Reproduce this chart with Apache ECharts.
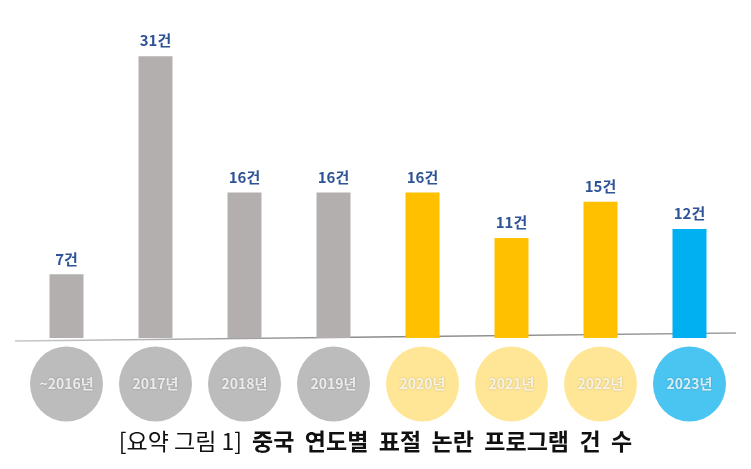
<!DOCTYPE html>
<html><head><meta charset="utf-8">
<script src="https://cdn.jsdelivr.net/npm/echarts@6/dist/echarts.min.js"></script>
<style>html,body{margin:0;padding:0;background:#fff}#c{width:751px;height:469px}</style>
</head><body><div id="c"></div>
<script>
const categories = ['~2016년','2017년','2018년','2019년','2020년','2021년','2022년','2023년'];
const values = [7, 31, 16, 16, 16, 11, 15, 12];
const barColors = ['#B3AFAF','#B3AFAF','#B3AFAF','#B3AFAF','#FFC000','#FFC000','#FFC000','#00B0F0'];
const circleColors = ['#ABABAB','#ABABAB','#ABABAB','#ABABAB','#FFE07C','#FFE07C','#FFE07C','#1DB6EF'];
const caption = ['[요약 그림 1]', '중국 연도별 표절 논란 프로그램 건 수'];

const chart = echarts.init(document.getElementById('c'));
chart.setOption({
  animation: false,
  backgroundColor: '#fff',
  title: {
    text: '{a|' + caption[0] + '}  {b|' + caption[1].split(' ').join('  ') + '}',
    left: 'center', top: 425,
    textStyle: {
      rich: {
        a: {fontFamily: '"Noto Sans CJK KR"', fontSize: 23, fontWeight: 'normal', color: '#111'},
        b: {fontFamily: '"Noto Sans CJK KR"', fontSize: 23, fontWeight: 'bold', color: '#111'}
      }
    }
  },
  graphic: [{
    type: 'line', z: 0,
    shape: {x1: 15, y1: 341, x2: 736, y2: 333},
    style: {
      lineWidth: 1.5,
      stroke: new echarts.graphic.LinearGradient(0, 0, 1, 0, [
        {offset: 0, color: '#C8C8C8'}, {offset: 0.5, color: '#8A8A8A'}, {offset: 1, color: '#A0A0A0'}
      ])
    }
  }],
  grid: [
    {left: 22, width: 712, top: 38, height: 300},
    {left: 22, width: 712, top: 347, height: 74}
  ],
  xAxis: [
    {type: 'category', gridIndex: 0, data: categories, axisLine: {show: false}, axisTick: {show: false}, axisLabel: {show: false}},
    {type: 'category', gridIndex: 1, data: categories, axisLine: {show: false}, axisTick: {show: false}, axisLabel: {show: false}}
  ],
  yAxis: [
    {type: 'value', gridIndex: 0, min: 0, max: 33, show: false, splitLine: {show: false}},
    {type: 'value', gridIndex: 1, min: -1, max: 1, show: false, splitLine: {show: false}}
  ],
  series: [
    {
      type: 'bar', xAxisIndex: 0, yAxisIndex: 0, barWidth: 34,
      data: values.map((v, i) => ({value: v, itemStyle: {color: barColors[i]}})),
      label: {
        show: true, position: 'top', distance: 8,
        formatter: p => p.value + '건',
        fontFamily: '"Noto Sans CJK KR"', fontWeight: 'bold', fontSize: 15, color: '#2F5496'
      }
    },
    {
      type: 'scatter', xAxisIndex: 1, yAxisIndex: 1, symbol: 'circle', symbolSize: [73, 75],
      data: categories.map((c, i) => ({value: [c, 0], itemStyle: {color: circleColors[i]}})),
      label: {
        show: true, position: 'inside',
        formatter: p => p.value[0],
        fontFamily: '"Noto Sans CJK KR"', fontWeight: 'bold', fontSize: 14, color: '#fff',
        textShadowColor: 'rgba(0,0,0,0.3)', textShadowBlur: 2
      }
    }
  ]
});
</script></body></html>
